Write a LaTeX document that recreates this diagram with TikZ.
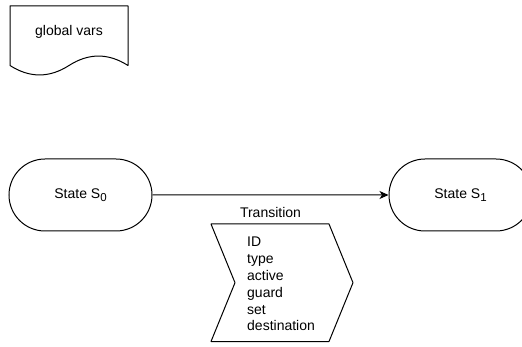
\documentclass[tikz,border=0pt]{standalone}
\usepackage{fontspec}
\setmainfont{Liberation Sans}
\usetikzlibrary{arrows.meta,shapes.misc}
\newcommand{\mysub}[1]{\raisebox{-3.5pt}{\fontsize{11.5}{11.5}\selectfont #1}}
\begin{document}
\begin{tikzpicture}[x=1pt,y=-1pt,
  every node/.style={font=\fontsize{14}{16.8}\selectfont, text=black},
  shapeline/.style={draw=black, line width=1pt},
  statebox/.style={shapeline, rounded rectangle, minimum width=143pt, minimum height=72pt, inner sep=0pt},
  link/.style={draw=black, line width=1pt, -{Stealth[length=9pt,width=8pt,inset=2.5pt]}}
]
\clip (0,0) rectangle (522,347);
% document shape "global vars"
\draw[shapeline, line join=round] (10,6) -- (128,6) -- (128,65.5)
  .. controls (108.33,52.9) and (88.67,52.9) .. (69,65.5)
  .. controls (49.33,78.1) and (29.67,78.1) .. (10,65.5) -- cycle;
\node[anchor=base, inner sep=0pt] (gv) at (69,36) {global vars};
% states
\node[statebox] (s0) at (80.5,195) {State S\mysub{0}};
\node[statebox] (s1) at (460.5,195) {State S\mysub{1}};
% transition
\draw[link] (s0) -- (s1) node[midway, anchor=base, yshift=-23pt, inner sep=0pt] (lbl) {Transition};
% chevron (step shape)
\draw[shapeline, line join=round] (211,224) -- (329,224) -- (353,282.7) -- (329,341.5) -- (211,341.5) -- (235,282.7) -- cycle;
\node[anchor=north west, align=left, inner sep=0pt] (fields) at (247,237) {ID\\type\\active\\guard\\set\\destination};
\end{tikzpicture}
\end{document}
